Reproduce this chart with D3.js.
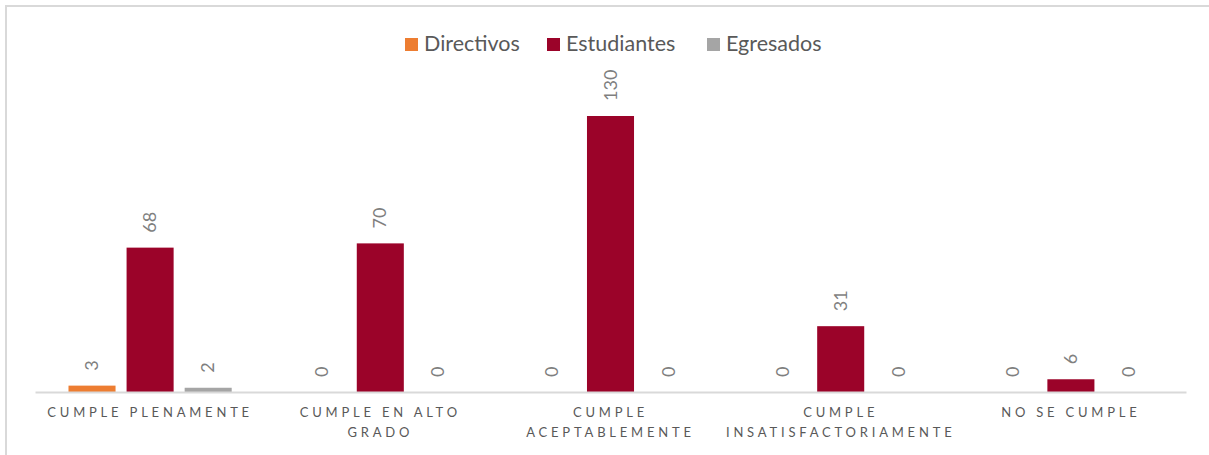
<!DOCTYPE html>
<html>
<head>
<meta charset="utf-8">
<script src="https://cdn.jsdelivr.net/npm/d3@7"></script>
<style>
  body { margin: 0; background: #fff; }
  text { font-family: Lato, "Open Sans", sans-serif; }
</style>
</head>
<body>
<div id="chart"></div>
<script>
// data
const categories = ["CUMPLE PLENAMENTE", "CUMPLE EN ALTO GRADO", "CUMPLE ACEPTABLEMENTE", "CUMPLE INSATISFACTORIAMENTE", "NO SE CUMPLE"];
const seriesNames = ["Directivos", "Estudiantes", "Egresados"];
const directivos = [3, 0, 0, 0, 0];
const estudiantes = [68, 70, 130, 31, 6];
const egresados = [2, 0, 0, 0, 0];
const seriesColors = ["#ed7d31", "#9b0329", "#a5a5a5"];

const width = 1209, height = 455;
const margin = {left: 35, right: 23, baseline: 392};

const svg = d3.select("#chart").append("svg")
    .attr("width", width)
    .attr("height", height);

// outer frame
svg.append("rect")
    .attr("x", 6).attr("y", 6)
    .attr("width", width + 20).attr("height", height + 20)
    .attr("fill", "none")
    .attr("stroke", "#d9d9d9")
    .attr("stroke-width", 2);

const values = [directivos, estudiantes, egresados];
const rows = categories.map((c, i) => ({
    cat: c,
    vals: seriesNames.map((s, j) => ({series: s, idx: j, value: values[j][i]}))
}));

const x0 = d3.scaleBand()
    .domain(categories)
    .range([margin.left, width - margin.right]);

const inner = 33.5;
const x1 = d3.scaleBand()
    .domain(seriesNames)
    .range([inner, x0.bandwidth() - inner])
    .paddingInner(0.19)
    .paddingOuter(0);

const y = d3.scaleLinear()
    .domain([0, 130])
    .range([margin.baseline, 116]);

const groups = svg.selectAll(".group")
    .data(rows)
    .enter().append("g")
    .attr("class", "group")
    .attr("transform", d => "translate(" + x0(d.cat) + ",0)");

groups.selectAll("rect")
    .data(d => d.vals)
    .enter().append("rect")
    .attr("x", d => x1(d.series))
    .attr("y", d => y(d.value))
    .attr("width", x1.bandwidth())
    .attr("height", d => y(0) - y(d.value))
    .attr("fill", d => seriesColors[d.idx]);

// value labels, rotated
groups.selectAll(".val")
    .data(d => d.vals)
    .enter().append("text")
    .attr("class", "val")
    .attr("transform", d => "translate(" + (x1(d.series) + x1.bandwidth() / 2 + 6) + "," + (y(d.value) - 15) + ") rotate(-90)")
    .attr("text-anchor", "start")
    .attr("fill", "#7f7f7f")
    .style("font-size", "18px")
    .text(d => d.value);

// x axis
const xAxis = svg.append("g")
    .attr("transform", "translate(0," + margin.baseline + ")")
    .call(d3.axisBottom(x0).tickSize(0).tickPadding(0));
xAxis.select(".domain").attr("stroke", "#d9d9d9").attr("stroke-width", 2);
xAxis.selectAll(".tick text")
    .attr("fill", "#595959")
    .style("font-size", "13px")
    .style("letter-spacing", "3.8px")
    .attr("y", 25)
    .attr("dy", 0)
    .call(wrap, 215);

function wrap(sel, w) {
    sel.each(function() {
        const t = d3.select(this);
        const words = t.text().split(" ");
        t.text(null);
        let line = [];
        let lineNo = 0;
        let tspan = t.append("tspan").attr("x", 0).attr("y", 25).attr("dy", 0);
        words.forEach(word => {
            line.push(word);
            tspan.text(line.join(" "));
            if (tspan.node().getComputedTextLength() > w && line.length > 1) {
                line.pop();
                tspan.text(line.join(" "));
                line = [word];
                lineNo++;
                tspan = t.append("tspan").attr("x", 0).attr("y", 25).attr("dy", lineNo * 20).text(word);
            }
        });
    });
}

// legend
const legendX = [405, 547, 707];
const legend = svg.append("g");
seriesNames.forEach((s, i) => {
    legend.append("rect")
        .attr("x", legendX[i]).attr("y", 38)
        .attr("width", 13).attr("height", 13)
        .attr("fill", seriesColors[i]);
    legend.append("text")
        .attr("x", legendX[i] + 19).attr("y", 51)
        .attr("fill", "#595959")
        .style("font-size", "21.5px")
        .text(s);
});
</script>
</body>
</html>
